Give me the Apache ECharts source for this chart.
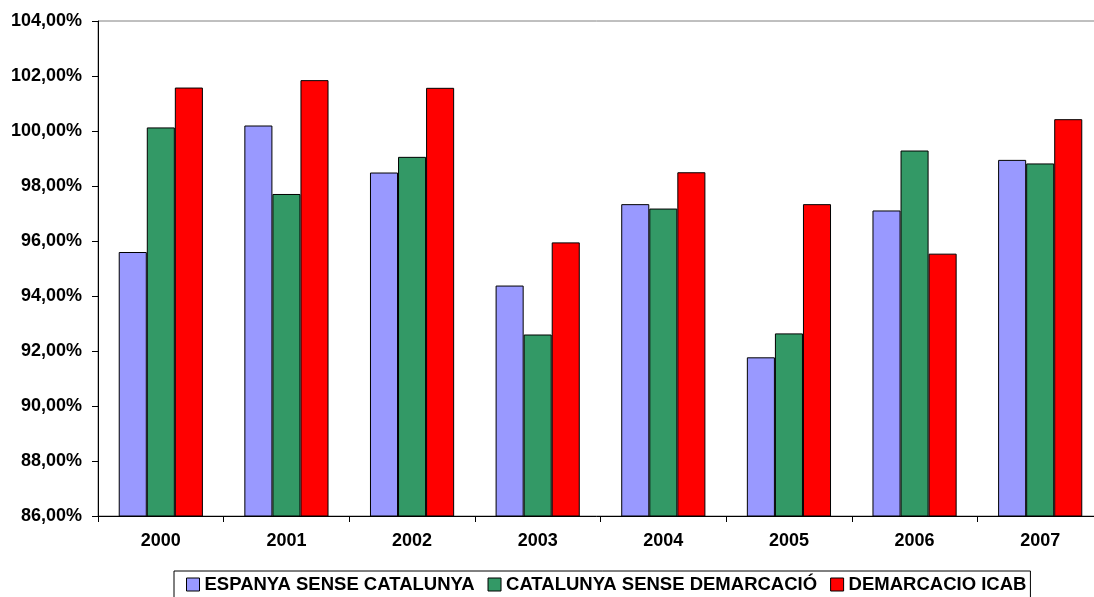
<!DOCTYPE html>
<html>
<head>
<meta charset="utf-8">
<script src="https://cdn.jsdelivr.net/npm/echarts@6/dist/echarts.min.js"></script>
<style>
html,body{margin:0;padding:0;background:#fff;}
#chart{width:1094px;height:597px;}
</style>
</head>
<body>
<div id="chart"></div>
<script>
const years = ['2000','2001','2002','2003','2004','2005','2006','2007'];
const seriesNames = ['ESPANYA SENSE CATALUNYA','CATALUNYA SENSE DEMARCACIÓ','DEMARCACIO ICAB'];
const espanya = [95.60, 100.20, 98.49, 94.38, 97.34, 91.77, 97.11, 98.95];
const catalunya = [100.13, 97.71, 99.06, 92.60, 97.18, 92.64, 99.29, 98.82];
const icab = [101.58, 101.85, 101.57, 95.95, 98.50, 97.34, 95.54, 100.43];
const colors = ['#9999FF','#339966','#FF0000'];
const yMin = 86, yMax = 104, yStep = 2;

const font = 'Liberation Sans, Arial, sans-serif';
const chart = echarts.init(document.getElementById('chart'));
const mk = (name, data, color) => ({
  name: name, type: 'bar', data: data,
  barGap: '0%', barCategoryGap: '33%',
  itemStyle: {color: color, borderColor: '#000', borderWidth: 1},
  emphasis: {disabled: true}
});
chart.setOption({
  animation: false,
  textStyle: {fontFamily: font},
  grid: {left: 98, top: 21, width: 1005, height: 495, outerBoundsMode: 'none', containLabel: false,
    show: true, borderColor: '#808080', borderWidth: 1, backgroundColor: 'transparent'},
  legend: {
    left: 174, top: 571,
    padding: [4, 4, 4, 12],
    itemWidth: 13, itemHeight: 13, itemGap: 13,
    borderColor: '#000', borderWidth: 1,
    icon: 'rect',
    textStyle: {fontFamily: font, fontSize: 18.5, fontWeight: 'bold', color: '#000'},
    itemStyle: {borderColor: '#000', borderWidth: 1},
    data: seriesNames
  },
  xAxis: {
    type: 'category', data: years,
    axisLine: {lineStyle: {color: '#000', width: 1}},
    axisTick: {show: true, inside: false, length: 6, lineStyle: {color: '#000'}},
    axisLabel: {fontFamily: font, fontSize: 18, fontWeight: 'bold', color: '#000', margin: 16}
  },
  yAxis: {
    type: 'value', min: yMin, max: yMax, interval: yStep,
    axisLine: {show: true, lineStyle: {color: '#000', width: 1}},
    axisTick: {show: true, length: 6, lineStyle: {color: '#000'}},
    splitLine: {show: false},
    axisLabel: {fontFamily: font, fontSize: 18, fontWeight: 'bold', color: '#000', margin: 16,
      formatter: v => v.toFixed(2).replace('.', ',') + '%'}
  },
  series: [mk(seriesNames[0], espanya, colors[0]), mk(seriesNames[1], catalunya, colors[1]), mk(seriesNames[2], icab, colors[2])]
});
</script>
</body>
</html>
